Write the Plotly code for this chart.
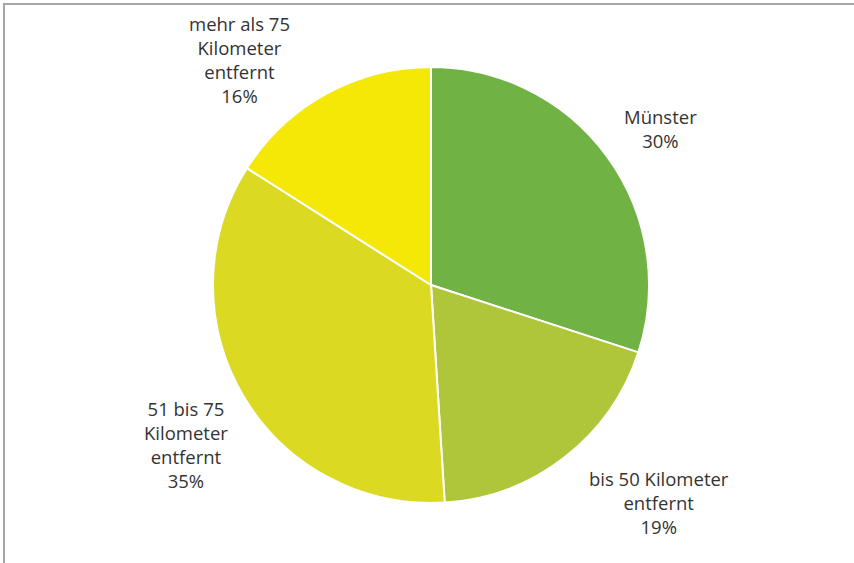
import plotly.graph_objects as go

# Herkunft (share in percent), clockwise from 12 o'clock
labels = ["Münster", "bis 50 Kilometer entfernt", "51 bis 75 Kilometer entfernt",
          "mehr als 75 Kilometer entfernt"]
label_lines = ["Münster", "bis 50 Kilometer<br>entfernt", "51 bis 75<br>Kilometer<br>entfernt",
               "mehr als 75<br>Kilometer<br>entfernt"]
shares = [30, 19, 35, 16]
colors = ["#70B244", "#AFC53A", "#DCD922", "#F6E806"]

# label placement (paper coords) for each slice
label_pos = [(0.773, 0.771), (0.772, 0.107), (0.218, 0.211), (0.281, 0.895)]

fig = go.Figure()
fig.add_trace(go.Pie(
    labels=labels,
    values=shares,
    sort=False,
    direction="clockwise",
    rotation=0,
    marker=dict(colors=colors, line=dict(color="white", width=2)),
    textinfo="none",
    hoverinfo="label+percent",
    showlegend=False,
    domain=dict(x=[0.2494, 0.7600], y=[0.1065, 0.8810]),
))

for text, val, (px, py) in zip(label_lines, shares, label_pos):
    fig.add_annotation(
        x=px, y=py, xref="paper", yref="paper",
        text=f"{text}<br>{val}%",
        showarrow=False, xanchor="center", yanchor="middle",
        font=dict(size=18.5, color="#333333", family="Open Sans"),
    )

# chart frame (only left and top edges visible)
fig.add_shape(type="rect", xref="paper", yref="paper",
              x0=4 / 854, x1=1.05, y0=-0.05, y1=1 - 4 / 563,
              line=dict(color="#A6A6A6", width=2))

fig.update_layout(
    width=854, height=563,
    margin=dict(l=0, r=0, t=0, b=0),
    paper_bgcolor="white",
    plot_bgcolor="white",
    font=dict(family="Open Sans"),
)

fig.write_html("out.html", config={"displayModeBar": False},
               post_script="document.body.style.margin='0';")
